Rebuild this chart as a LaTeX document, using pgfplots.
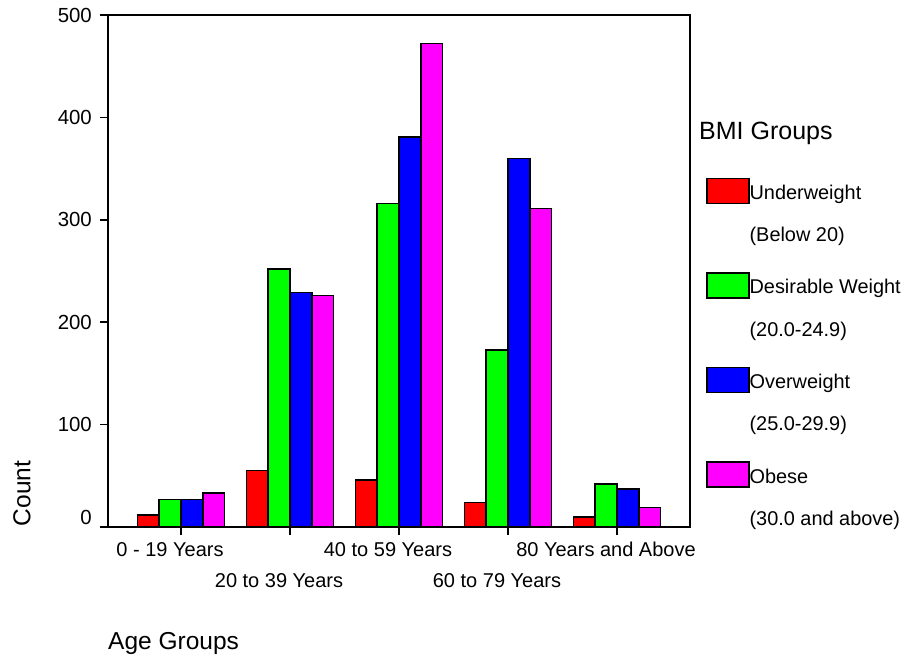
\documentclass[border=0pt]{standalone}
\usepackage{fontspec}
\setmainfont{Liberation Sans}
\usepackage{pgfplots}
\pgfplotsset{compat=1.18}
\definecolor{cRed}{RGB}{255,0,0}
\definecolor{cGreen}{RGB}{0,255,0}
\definecolor{cBlue}{RGB}{0,0,255}
\definecolor{cMag}{RGB}{255,0,255}
\newcommand{\lentry}[2]{\begin{tabular}[t]{@{}l@{}}\rule{0pt}{22pt}#1\\[19.4pt]#2\end{tabular}}
\begin{document}
\begin{tikzpicture}
\path[use as bounding box] (-108pt,-132pt) rectangle (799pt,527pt);
\begin{axis}[
  at={(0pt,0pt)}, anchor=south west,
  scale only axis, width=582pt, height=512pt,
  xmin=-0.67, xmax=4.67, ymin=0, ymax=500,
  ybar=0pt, bar width=21.8pt,
  axis line style={line width=1.8pt},
  major tick length=8pt,
  tick style={line width=1.5pt, black},
  tick align=outside,
  xtick pos=left, ytick pos=left,
  xtick={0,2,4}, xticklabels={0 - 19 Years, 40 to 59 Years, 80 Years and Above},
  extra x ticks={1,3}, extra x tick labels={20 to 39 Years, 60 to 79 Years},
  extra x tick style={xticklabel style={yshift=-31pt}},
  ytick={100,200,300,400,500},
  extra y ticks={0}, extra y tick labels={0},
  extra y tick style={yticklabel style={yshift=10pt}},
  ticklabel style={inner sep=0pt},
  xticklabel style={font=\fontsize{20}{24}\selectfont, anchor=north, xshift=-11pt, yshift=-7pt},
  yticklabel style={font=\fontsize{20.4}{24}\selectfont, anchor=east, xshift=-8pt},
  /pgf/number format/assume math mode=true,
  legend image code/.code={\draw[#1] (0pt,-4pt) rectangle (42pt,21pt);\path[draw=none,fill=none] (0pt,-49.3pt) -- (0pt,0pt);},
  legend style={draw=none, fill=none, at={(1,1)}, anchor=north west,
    xshift=16pt, yshift=-162.3pt, inner sep=0pt, outer sep=0pt,
    row sep=23.3pt, column sep=0pt,
    font=\fontsize{19.9}{23}\selectfont,
    cells={anchor=base west}, nodes={inner sep=0pt}},
  clip=false,
]
\addplot[fill=cRed, draw=black, line width=1.6pt] coordinates {(0,12) (1,55) (2,46) (3,24) (4,10)};
\addlegendentry{\lentry{Underweight}{(Below 20)}}
\addplot[fill=cGreen, draw=black, line width=1.6pt] coordinates {(0,27) (1,252) (2,316) (3,173) (4,42)};
\addlegendentry{\lentry{Desirable Weight}{(20.0-24.9)}}
\addplot[fill=cBlue, draw=black, line width=1.6pt] coordinates {(0,27) (1,229) (2,381) (3,360) (4,37)};
\addlegendentry{\lentry{Overweight}{(25.0-29.9)}}
\addplot[fill=cMag, draw=black, line width=1.6pt] coordinates {(0,33) (1,226) (2,472) (3,311) (4,19)};
\addlegendentry{\lentry{Obese}{(30.0 and above)}}
\end{axis}
\node[rotate=90, inner sep=0pt, font=\fontsize{24.5}{28}\selectfont] at (-86pt,33.5pt) {Count};
\node[anchor=base west, inner sep=0pt, font=\fontsize{24.5}{28}\selectfont] at (0pt,-122pt) {Age Groups};
\node[anchor=base west, inner sep=0pt, font=\fontsize{25}{28}\selectfont] at (591pt,387.7pt) {BMI Groups};
\end{tikzpicture}
\end{document}
